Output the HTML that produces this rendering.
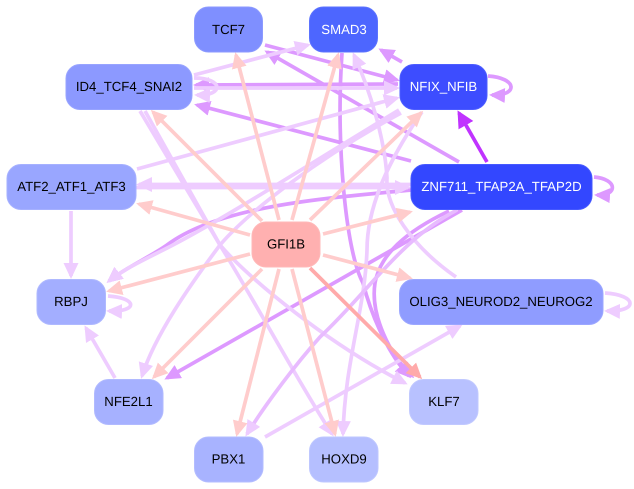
<!DOCTYPE html>
<html><head><meta charset="utf-8"><style>
html,body{margin:0;padding:0;background:#fff}
svg{display:block}
text{font-family:"Liberation Sans",sans-serif;font-size:13.2px;text-anchor:middle;fill:#000;text-rendering:geometricPrecision}
path{fill:none;stroke-width:3.7}
</style></head><body>
<svg width="634" height="489" viewBox="0 0 634 489" xmlns="http://www.w3.org/2000/svg">
<defs>
<marker id="l" markerUnits="userSpaceOnUse" markerWidth="18" markerHeight="16" refX="13" refY="7.5" orient="auto"><polygon points="0,0 16,7.5 0,15" fill="#eeccff"/></marker>
<marker id="m" markerUnits="userSpaceOnUse" markerWidth="18" markerHeight="16" refX="13" refY="7.5" orient="auto"><polygon points="0,0 16,7.5 0,15" fill="#dd99ff"/></marker>
<marker id="p" markerUnits="userSpaceOnUse" markerWidth="18" markerHeight="16" refX="13" refY="7.5" orient="auto"><polygon points="0,0 16,7.5 0,15" fill="#ffcccc"/></marker>
<marker id="r" markerUnits="userSpaceOnUse" markerWidth="18" markerHeight="16" refX="13" refY="7.5" orient="auto"><polygon points="0,0 16,7.5 0,15" fill="#ffaaaa"/></marker>
<marker id="d" markerUnits="userSpaceOnUse" markerWidth="20" markerHeight="18" refX="14" refY="8.5" orient="auto"><polygon points="0,0 17,8.5 0,17" fill="#c033ff"/></marker>
</defs>

<!-- purple edges -->
<g stroke="#dd99ff">
<path d="M459,162 L267,52" marker-end="url(#m)"/>
<path d="M265,45 L397,80" marker-end="url(#m)"/>
<path d="M402,62 L381,50" marker-end="url(#m)"/>
<path d="M398,84 L196,85" marker-end="url(#m)"/>
<path d="M411,161 L197,105" marker-end="url(#m)"/>
<path d="M411,190 C330,198 220,205 167,245 C150,257 125,268 109,281" marker-end="url(#m)"/>
<path d="M462,210 L167,378" marker-end="url(#m)"/>
<path d="M342,53 C336,140 345,250 363,283 C370,310 385,350 409,376" marker-end="url(#m)"/>
<path d="M449,211 C405,232 380,255 375,283 C370,315 390,355 412,376" marker-end="url(#m)"/>
<path d="M488,76 C518,78 518,96 492,95" marker-end="url(#m)"/>
<path d="M594,177 C618,179 618,196 597,195" marker-end="url(#m)"/>
</g>
<path d="M487,162 L459,113" stroke="#c033ff" stroke-width="4" marker-end="url(#d)"/>

<!-- light edges -->
<g stroke="#eeccff">
<path d="M194,75 L308,45" marker-end="url(#l)"/>
<path d="M194,88 L397,88" marker-end="url(#l)"/>
<path d="M194,78 C224,78 224,96 197,95" marker-end="url(#l)"/>
<path d="M137,169 L397,98" marker-end="url(#l)"/>
<path d="M411,184.500 L139,184.500" marker-end="url(#l)"/>
<path d="M136,187.500 L408,187.500" marker-end="url(#l)"/>
<path d="M71,211 L71,276" marker-end="url(#l)"/>
<path d="M115,378 L86,328" marker-end="url(#l)"/>
<path d="M399,110 C300,170 230,215 173,245 C150,257 125,268 109,281" marker-end="url(#l)"/>
<path d="M401,113 C320,157 250,210 220,245 C190,285 155,335 142,376" marker-end="url(#l)"/>
<path d="M140,111 L220,245 C260,310 300,385 332,434" marker-end="url(#l)"/>
<path d="M145,111 L220,245 C250,280 330,345 405,383" marker-end="url(#l)"/>
<path d="M422,112 C385,165 367,210 367,250 C365,310 345,360 343,434" marker-end="url(#l)"/>
<path d="M456,277 C410,245 385,205 387,178 C385,140 370,90 354,55" marker-end="url(#l)"/>
<path d="M457,210 C400,240 370,290 320,337 C295,365 265,405 247,434" stroke="#e8bbff" marker-end="url(#l)"/>
<path d="M265,437 L460,326" marker-end="url(#l)"/>
<path d="M108,296 C138,298 138,312 109,311" marker-end="url(#l)"/>
<path d="M605,293 C638,295 638,312 607,311" marker-end="url(#l)"/>
</g>

<!-- pink edges -->
<g stroke="#ffcccc">
<path d="M279,220 L236,55" marker-end="url(#p)"/>
<path d="M292,220 L338,55" marker-end="url(#p)"/>
<path d="M262,221 L153,112" marker-end="url(#p)"/>
<path d="M310,220 L421,113" marker-end="url(#p)"/>
<path d="M250,235 L139,204" marker-end="url(#p)"/>
<path d="M323,234 L410,212" marker-end="url(#p)"/>
<path d="M323,255 L410,278" marker-end="url(#p)"/>
<path d="M250,254 L109,291" marker-end="url(#p)"/>
<path d="M262,269 L154,377" marker-end="url(#p)"/>
<path d="M279,269 L237,434" marker-end="url(#p)"/>
<path d="M292,269 L335,434" marker-end="url(#p)"/>
</g>
<path d="M310,268 L420,377" stroke="#ffaaaa" marker-end="url(#r)"/>

<!-- nodes -->
<rect x="194.500" y="7" width="68" height="45" rx="14" fill="#7f8fff" stroke="#8c9aff"/>
<text x="228.500" y="34">TCF7</text>
<rect x="309.500" y="7" width="68" height="45" rx="14" fill="#4d66ff" stroke="#5c73ff"/>
<text x="344" y="34" style="fill:#fff">SMAD3</text>
<rect x="66" y="64.500" width="126" height="45" rx="14" fill="#8c99ff" stroke="#98a4ff"/>
<text x="129" y="91">ID4_TCF4_SNAI2</text>
<rect x="400" y="64.500" width="87" height="45" rx="14" fill="#3d4dff" stroke="#4d5dff"/>
<text x="443.500" y="91" style="fill:#fff">NFIX_NFIB</text>
<rect x="7" y="164.500" width="129" height="45" rx="14" fill="#99a6ff" stroke="#a6b1ff"/>
<text x="71.500" y="191">ATF2_ATF1_ATF3</text>
<rect x="411" y="164.500" width="181" height="45" rx="14" fill="#3347ff" stroke="#4659ff"/>
<text x="501.500" y="191" style="fill:#fff">ZNF711_TFAP2A_TFAP2D</text>
<rect x="252" y="222" width="68" height="45" rx="14" fill="#ffb0b0" stroke="#ffb8b8"/>
<text x="286" y="248.500">GFI1B</text>
<rect x="37" y="279.500" width="68.500" height="45" rx="14" fill="#a3aeff" stroke="#afb9ff"/>
<text x="71" y="306">RBPJ</text>
<rect x="399.500" y="279.500" width="203.500" height="45" rx="14" fill="#8f9cff" stroke="#9ca7ff"/>
<text x="501" y="306">OLIG3_NEUROD2_NEUROG2</text>
<rect x="94.500" y="379.500" width="68.500" height="45" rx="14" fill="#a6b1ff" stroke="#b1baff"/>
<text x="128.500" y="406">NFE2L1</text>
<rect x="409.500" y="379.500" width="68.500" height="45" rx="14" fill="#b8c1ff" stroke="#c1c9ff"/>
<text x="444" y="406">KLF7</text>
<rect x="194.500" y="437" width="68.500" height="45" rx="14" fill="#a8b3ff" stroke="#b3bcff"/>
<text x="228.500" y="463.500">PBX1</text>
<rect x="309.500" y="437" width="68.500" height="45" rx="14" fill="#b5bfff" stroke="#bec7ff"/>
<text x="344" y="463.500">HOXD9</text>
</svg>
</body></html>
